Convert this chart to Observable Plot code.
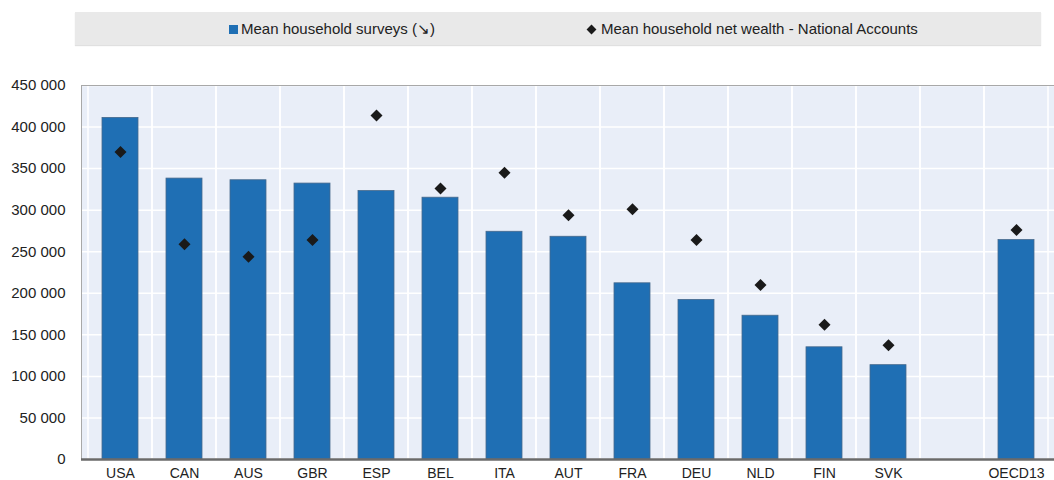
<!DOCTYPE html>
<html>
<head>
<meta charset="utf-8">
<script src="https://cdn.jsdelivr.net/npm/d3@7"></script>
<script src="https://cdn.jsdelivr.net/npm/@observablehq/plot@0.6"></script>
<style>
  html, body { margin: 0; padding: 0; background: #ffffff; }
  body { width: 1054px; height: 480px; overflow: hidden; font-family: "Liberation Sans", Arial, sans-serif; color: #222; }
  #legend { position: relative; height: 46px; }
  #legend .box { position: absolute; left: 75px; top: 12px; width: 966px; height: 33px; background: #e9e9e9; box-shadow: 0 1px 1px rgba(0,0,0,0.12); }
  #legend .item { position: absolute; top: 12px; height: 33px; line-height: 33px; font-size: 15px; white-space: nowrap; color: #222; }
  #legend .sq { display: inline-block; width: 9px; height: 9px; background: #1f6fb4; margin-right: 3px; }
  #legend .dm { display: inline-block; width: 7px; height: 7px; background: #1a1a1a; transform: rotate(45deg); margin-right: 6px; margin-left: 1px; vertical-align: 1px; }
  g[aria-label^="y-axis"] text { font-size: 15px; }
</style>
</head>
<body>
<div id="legend">
  <div class="box"></div>
  <div class="item" id="leg1" style="left:229px"></div>
  <div class="item" id="leg2" style="left:587px"></div>
</div>
<div id="chart"></div>
<script>
const categories = ["USA","CAN","AUS","GBR","ESP","BEL","ITA","AUT","FRA","DEU","NLD","FIN","SVK","","OECD13"];
const countries  = ["USA","CAN","AUS","GBR","ESP","BEL","ITA","AUT","FRA","DEU","NLD","FIN","SVK","OECD13"];
const surveys    = [411000, 338000, 336000, 332000, 323000, 315000, 274000, 268000, 212000, 192000, 173000, 135000, 113500, 264000];
const national   = [370000, 259000, 244000, 264000, 414000, 326000, 345000, 294000, 301000, 264000, 210000, 162000, 137600, 276000];
const yTicks     = [0, 50000, 100000, 150000, 200000, 250000, 300000, 350000, 400000, 450000];
const seriesNames = ["Mean household surveys (\u2198)", "Mean household net wealth - National Accounts"];

document.getElementById("leg1").innerHTML = '<span class="sq"></span>' + seriesNames[0];
document.getElementById("leg2").innerHTML = '<span class="dm"></span>' + seriesNames[1];

const rows = countries.map((c, i) => ({country: c, surveys: surveys[i], national: national[i]}));
const fmt = d => d3.format(",")(d).replace(/,/g, " ");

const chart = Plot.plot({
  width: 1054,
  height: 434,
  marginTop: 39,
  marginBottom: 21,
  marginLeft: 81,
  marginRight: 0,
  style: {fontFamily: "'Liberation Sans', Arial, sans-serif", fontSize: "14px", color: "#222", background: "transparent", overflow: "visible"},
  x: {domain: categories, padding: 0, tickSize: 0, tickPadding: 9, label: null},
  y: {domain: [0, 450000], ticks: yTicks, tickFormat: fmt, tickSize: 0, tickPadding: 16, label: null},
  marks: [
    Plot.frame({fill: "#e9eef8", stroke: "none"}),
    Plot.ruleY(yTicks, {stroke: "#ffffff", strokeWidth: 1.5}),
    Plot.barY(categories, {x: d => d, y1: 0, y2: 450000, fill: "none", stroke: "#ffffff", strokeWidth: 1.5}),
    Plot.barY(rows, {x: "country", y: "surveys", fill: "#1f6fb4", stroke: "#46698c", strokeWidth: 0.8, insetLeft: 14, insetRight: 14}),
    Plot.dot(rows, {x: "country", y: "national", symbol: "diamond2", r: 5.4, fill: "#1a1a1a", stroke: "none"}),
    Plot.frame({stroke: "#a8a8a8", strokeWidth: 1}),
    Plot.ruleY([0], {stroke: "#6a6a6a", strokeWidth: 2.5})
  ]
});
document.getElementById("chart").appendChild(chart);
</script>
</body>
</html>
